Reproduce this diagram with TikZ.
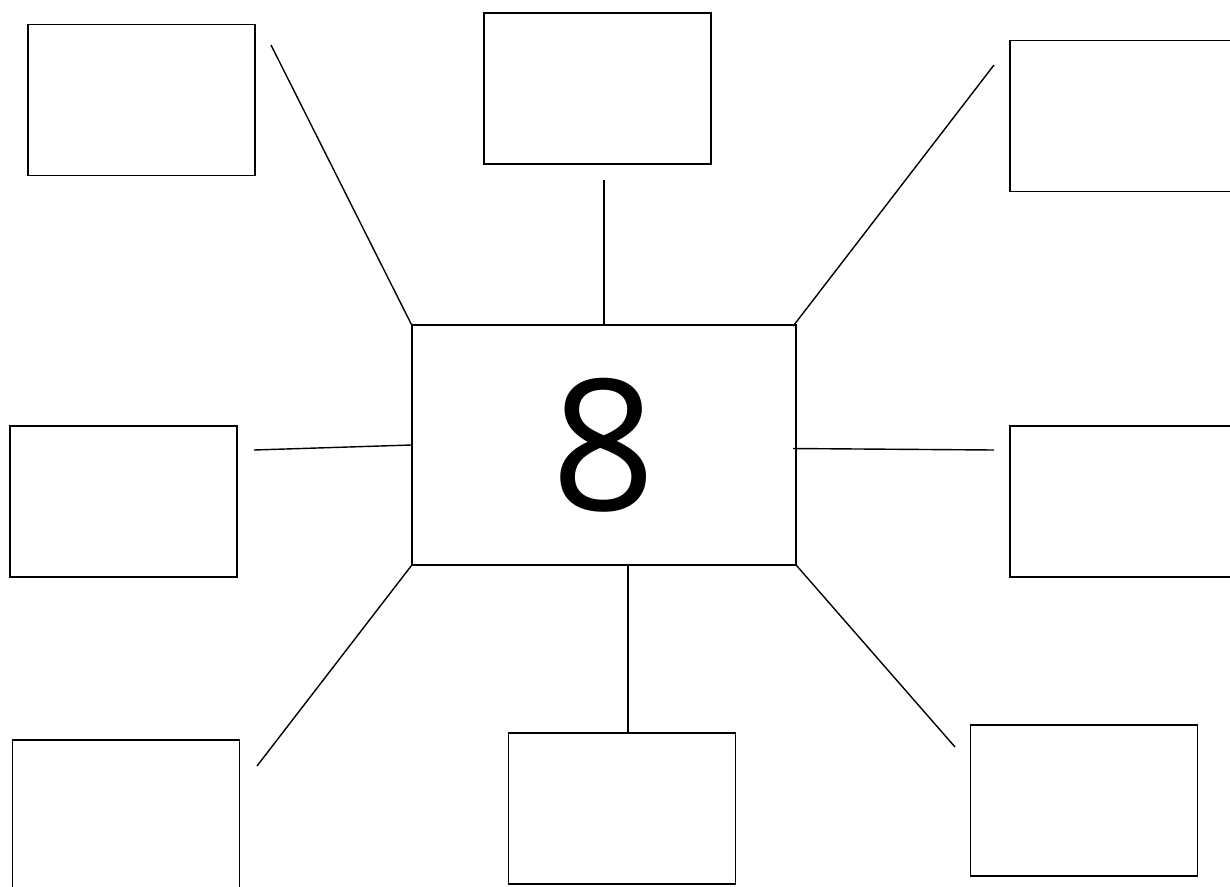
\documentclass[tikz,border=0pt]{standalone}
\usepackage{fontspec}
\newfontfamily\digitfont{Open Sans}
\usetikzlibrary{positioning}

\begin{document}
\begin{tikzpicture}[
  x=0.02cm,y=-0.02cm,
  box/.style={draw,line width=0.8pt,minimum width=4.54cm,minimum height=3.02cm,inner sep=0pt},
  hub/.style={draw,line width=0.8pt,minimum width=7.68cm,minimum height=4.8cm,inner sep=0pt,font=\digitfont\fontsize{104}{104}\selectfont},
  spoke/.style={line width=0.8pt}
]
\useasboundingbox (0,0) rectangle (1230,886);
\node[hub] (centre) at (604,445) {\raisebox{-0.05cm}{8}};

\node[box] (topleft) at (141.5,100) {};
\node[box] (topmid) at (597.5,88.5) {};
\node[box] (topright) at (1123.5,116) {};
\node[box] (midleft) at (123.5,501.5) {};
\node[box] (midright) at (1123.5,501.5) {};
\node[box] (botleft) at (126,815.5) {};
\node[box] (botmid) at (622,808.5) {};
\node[box] (botright) at (1084,800.5) {};

% loose ends of the spokes, short of the outer boxes
\coordinate (tlend) at (271,45);
\coordinate (tmend) at (604,180);
\coordinate (trend) at (994,65);
\coordinate (mlend) at (254,450);
\coordinate (mrend) at (994,450);
\coordinate (blend) at (257,766);
\coordinate (bmx) at (628,0);
\coordinate (brend) at (955,747);

\draw[spoke] (centre.north west) -- (tlend);
\draw[spoke] (centre.north -| tmend) -- (tmend);
\draw[spoke] ([xshift=-2pt,yshift=-1pt]centre.north east) -- (trend);
\draw[spoke] (centre.west) -- (mlend);
\draw[spoke] ([xshift=-2pt,yshift=-2pt]centre.east) -- (mrend);
\draw[spoke] (centre.south west) -- (blend);
\draw[spoke] (centre.south -| bmx) -- (botmid.north -| bmx);
\draw[spoke] (centre.south east) -- (brend);
\end{tikzpicture}
\end{document}
